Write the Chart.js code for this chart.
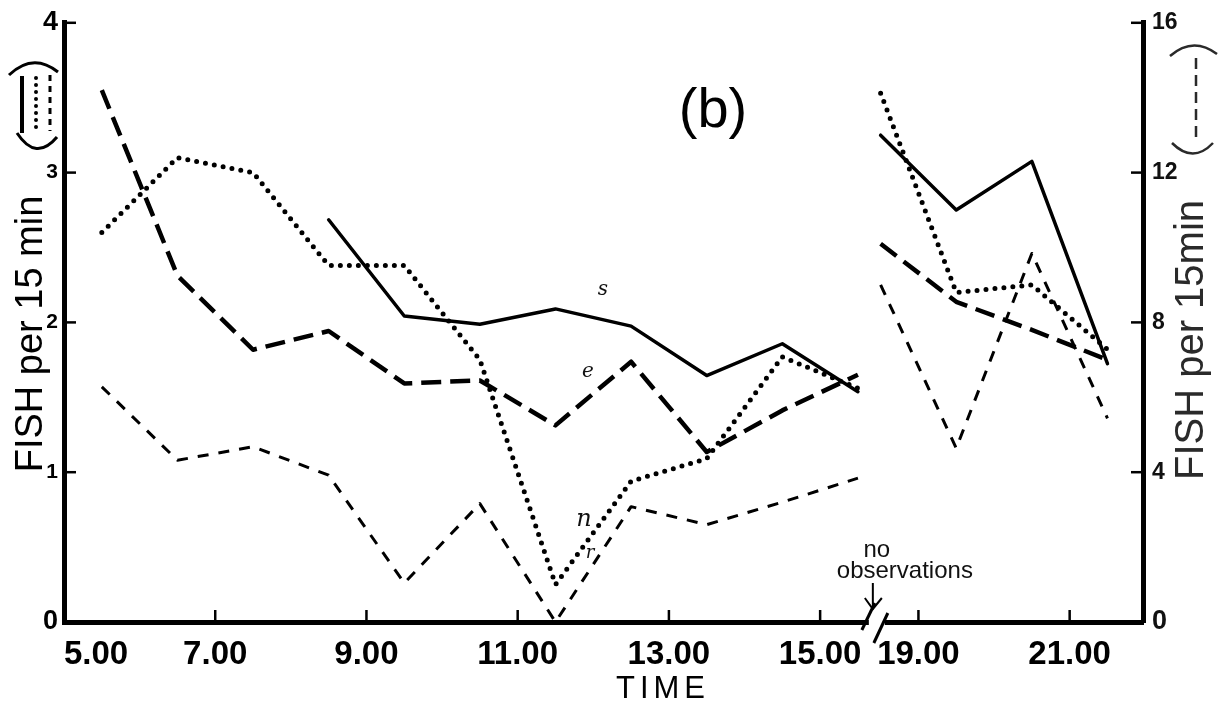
<!DOCTYPE html>
<html>
<head>
<meta charset="utf-8">
<script src="https://cdn.jsdelivr.net/npm/chart.js@4.4.1/dist/chart.umd.min.js"></script>
<style>
  html, body { margin: 0; padding: 0; background: #fff; }
  #wrap { width: 1227px; height: 712px; }
</style>
</head>
<body>
<div id="wrap"><canvas id="fish" width="1227" height="712"></canvas></div>
<script>
// Observation times (hours). Morning block, then evening block after the break.
const dayHours = [5.5, 6.5, 7.5, 8.5, 9.5, 10.5, 11.5, 12.5, 13.5, 14.5, 15.5];
const eveningHours = [18.5, 19.5, 20.5, 21.5];

// Left axis series (0-4 fish per 15 min)
const dottedDay = [2.60, 3.10, 3.00, 2.38, 2.38, 1.75, 0.25, 0.94, 1.09, 1.77, 1.56];
const dottedEvening = [3.53, 2.20, 2.25, 1.82];
const shortDashDay = [1.57, 1.08, 1.17, 0.98, 0.26, 0.79, 0.00, 0.77, 0.65, 0.80, 0.96];
const shortDashEvening = [2.25, 1.16, 2.46, 1.36];

// Right axis series (0-16 fish per 15 min)
const solidDay = [null, null, null, 10.74, 8.17, 7.95, 8.36, 7.90, 6.58, 7.43, 6.15];
const solidEvening = [13.0, 11.0, 12.3, 6.9];
const longDashDay = [14.2, 9.25, 7.27, 7.77, 6.37, 6.45, 5.25, 6.95, 4.54, 5.65, 6.6];
const longDashEvening = [10.1, 8.55, 7.8, 7.0];

// Axis ticks
const xTickHours = [5, 7, 9, 11, 13, 15, 19, 21];
const xTickLabels = ['5.00', '7.00', '9.00', '11.00', '13.00', '15.00', '19.00', '21.00'];
const xTickMarkHours = [7, 9, 11, 13, 15, 19, 21];
const leftTicks = [0, 1, 2, 3, 4];
const rightTicks = [0, 4, 8, 12, 16];

// The hours with no observations are cut out of the time axis.
const GAP_SHIFT = 2.7;
const BREAK_HOUR = 15.75;
const toAxis = h => (h < 17 ? h : h - GAP_SHIFT);

const pts = (hours, values) => hours.map((h, i) => ({ x: toAxis(h), y: values[i] }));

const styles = {
  dotted:    { borderWidth: 5,   borderDash: [0, 9],   borderCapStyle: 'round', yAxisID: 'yLeft' },
  shortDash: { borderWidth: 3,   borderDash: [11, 10], borderCapStyle: 'butt',  yAxisID: 'yLeft' },
  solid:     { borderWidth: 3.5, borderDash: [],       borderCapStyle: 'round', yAxisID: 'yRight' },
  longDash:  { borderWidth: 4.5, borderDash: [20, 9],  borderCapStyle: 'butt',  yAxisID: 'yRight' }
};

function blockSets(name, day, evening) {
  const base = Object.assign({
    borderColor: '#000', backgroundColor: '#000', pointRadius: 0,
    tension: 0, fill: false, borderJoinStyle: 'round', spanGaps: false
  }, styles[name]);
  return [
    Object.assign({ label: name + ' (day)', data: pts(dayHours, day) }, base),
    Object.assign({ label: name + ' (evening)', data: pts(eveningHours, evening) }, base)
  ];
}

const datasets = [
  ...blockSets('dotted', dottedDay, dottedEvening),
  ...blockSets('shortDash', shortDashDay, shortDashEvening),
  ...blockSets('solid', solidDay, solidEvening),
  ...blockSets('longDash', longDashDay, longDashEvening)
];

Chart.defaults.font.family = "'Liberation Sans', Arial, sans-serif";
Chart.defaults.color = '#000';

function line(ctx, x1, y1, x2, y2) {
  ctx.beginPath(); ctx.moveTo(x1, y1); ctx.lineTo(x2, y2); ctx.stroke();
}

function rotatedText(ctx, text, x, y, font, color) {
  ctx.save();
  ctx.translate(x, y);
  ctx.rotate(-Math.PI / 2);
  ctx.font = font;
  ctx.fillStyle = color;
  ctx.textAlign = 'center';
  ctx.textBaseline = 'alphabetic';
  ctx.fillText(text, 0, 0);
  ctx.restore();
}

// Inward tick marks, axis break, axis titles, key brackets and notes
const decorations = {
  id: 'decorations',
  afterDatasetsDraw(chart) {
    const { ctx, chartArea: a } = chart;
    const x = chart.scales.x, yL = chart.scales.yLeft, yR = chart.scales.yRight;
    ctx.save();
    ctx.strokeStyle = '#000';
    ctx.fillStyle = '#000';
    ctx.lineCap = 'butt';

    // tick marks pointing into the plot
    ctx.lineWidth = 2.5;
    xTickMarkHours.forEach(h => {
      const px = x.getPixelForValue(toAxis(h));
      line(ctx, px, a.bottom, px, a.bottom - 12);
    });
    leftTicks.slice(1).forEach(v => {
      const py = yL.getPixelForValue(v);
      line(ctx, a.left, py, a.left + 12, py);
    });
    rightTicks.slice(1).forEach(v => {
      const py = yR.getPixelForValue(v);
      line(ctx, a.right, py, a.right - 12, py);
    });

    // axis break
    const bx = x.getPixelForValue(BREAK_HOUR);
    ctx.fillStyle = '#fff';
    ctx.fillRect(bx - 8, a.bottom - 5, 16, 10);
    ctx.fillStyle = '#000';
    ctx.lineWidth = 3;
    line(ctx, bx - 2, a.bottom - 19, bx - 15, a.bottom + 8);
    line(ctx, bx + 11, a.bottom - 9, bx - 3, a.bottom + 21);

    // "no observations" note with arrow
    ctx.font = "24px 'Liberation Sans', Arial, sans-serif";
    ctx.textAlign = 'center';
    ctx.textBaseline = 'alphabetic';
    ctx.fillStyle = '#111';
    ctx.fillText('no', bx, a.bottom - 65);
    ctx.fillText('observations', bx + 28, a.bottom - 44);
    ctx.lineWidth = 2;
    line(ctx, bx - 4, a.bottom - 39, bx - 4, a.bottom - 14);
    ctx.beginPath();
    ctx.moveTo(bx - 12, a.bottom - 24);
    ctx.lineTo(bx - 4, a.bottom - 13);
    ctx.lineTo(bx + 5, a.bottom - 24);
    ctx.stroke();

    // panel letter
    ctx.fillStyle = '#000';
    ctx.font = "56px 'Liberation Sans', Arial, sans-serif";
    ctx.textBaseline = 'middle';
    ctx.fillText('(b)', 713, 112);

    // x axis title
    ctx.font = "31px 'Liberation Sans', Arial, sans-serif";
    ctx.letterSpacing = '5px';
    ctx.fillText('TIME', 663, 689);
    ctx.letterSpacing = '0px';

    // y axis titles
    rotatedText(ctx, 'FISH per 15 min', 42, 334, "38px 'Liberation Sans', Arial, sans-serif", '#000');
    rotatedText(ctx, 'FISH per 15min', 1203, 340, "40px 'Liberation Sans', Arial, sans-serif", '#2a2a2a');

    // key bracket, left axis: dotted and short-dashed series
    ctx.lineWidth = 3;
    ctx.setLineDash([]);
    ctx.beginPath(); ctx.moveTo(9, 75); ctx.quadraticCurveTo(33, 52, 58, 72); ctx.stroke();
    ctx.beginPath(); ctx.moveTo(17, 133); ctx.quadraticCurveTo(36, 162, 57, 137); ctx.stroke();
    ctx.lineWidth = 4;
    line(ctx, 22, 76, 22, 133);
    ctx.lineCap = 'round';
    ctx.setLineDash([0, 7]);
    line(ctx, 36, 78, 36, 130);
    ctx.lineCap = 'butt';
    ctx.lineWidth = 3;
    ctx.setLineDash([6, 5]);
    line(ctx, 50, 75, 50, 131);

    // key bracket, right axis: solid and long-dashed series
    ctx.setLineDash([]);
    ctx.strokeStyle = '#2a2a2a';
    ctx.lineWidth = 2.5;
    ctx.beginPath(); ctx.moveTo(1170, 56); ctx.quadraticCurveTo(1193, 36, 1217, 54); ctx.stroke();
    ctx.beginPath(); ctx.moveTo(1172, 143); ctx.quadraticCurveTo(1193, 164, 1213, 143); ctx.stroke();
    ctx.setLineDash([11, 6]);
    line(ctx, 1196, 58, 1196, 140);
    ctx.setLineDash([]);

    // pencilled series letters
    ctx.fillStyle = '#111';
    ctx.font = "italic 20px 'DejaVu Serif', serif";
    ctx.textAlign = 'center';
    ctx.textBaseline = 'middle';
    ctx.fillText('s', 603, 290);
    ctx.fillText('e', 588, 372);
    ctx.font = "italic 24px 'DejaVu Serif', serif";
    ctx.fillText('n', 584, 520);
    ctx.font = "italic 18px 'DejaVu Serif', serif";
    ctx.fillText('r', 590, 553);

    ctx.restore();
  }
};

new Chart(document.getElementById('fish'), {
  type: 'line',
  data: { datasets },
  options: {
    responsive: false,
    devicePixelRatio: 1,
    animation: false,
    layout: { padding: { top: 19, left: 0, right: 0, bottom: 0 } },
    plugins: { legend: { display: false }, tooltip: { enabled: false } },
    scales: {
      x: {
        type: 'linear',
        position: 'bottom',
        min: 5,
        max: 19.27,
        afterBuildTicks: s => {
          s.ticks = xTickHours.map(h => ({ value: toAxis(h) })).concat([{ value: 19.27 }]);
        },
        afterFit: s => { s.height = 90; },
        grid: { display: false, drawTicks: false },
        border: { display: true, color: '#000', width: 5 },
        ticks: {
          autoSkip: false,
          maxRotation: 0,
          align: 'inner',
          padding: 13,
          color: '#000',
          font: { size: 33, weight: 'bold' },
          callback: (v, i) => (i < xTickLabels.length ? xTickLabels[i] : '')
        }
      },
      yLeft: {
        type: 'linear',
        position: 'left',
        min: 0,
        max: 4,
        afterBuildTicks: s => { s.ticks = leftTicks.map(v => ({ value: v })); },
        afterFit: s => { s.width = 64; },
        grid: { display: false, drawTicks: false },
        border: { display: true, color: '#000', width: 5 },
        ticks: {
          padding: 6,
          color: '#000',
          font: c => ({ size: (c.tick && (c.tick.value === 0 || c.tick.value === 4)) ? 27 : 21, weight: 'bold' })
        }
      },
      yRight: {
        type: 'linear',
        position: 'right',
        min: 0,
        max: 16,
        afterBuildTicks: s => { s.ticks = rightTicks.map(v => ({ value: v })); },
        afterFit: s => { s.width = 84; },
        grid: { display: false, drawTicks: false },
        border: { display: true, color: '#000', width: 5 },
        ticks: {
          padding: 9,
          color: '#111',
          font: c => ({ size: (c.tick && c.tick.value === 0) ? 27 : 23, weight: 'bold' })
        }
      }
    }
  },
  plugins: [decorations]
});
</script>
</body>
</html>
